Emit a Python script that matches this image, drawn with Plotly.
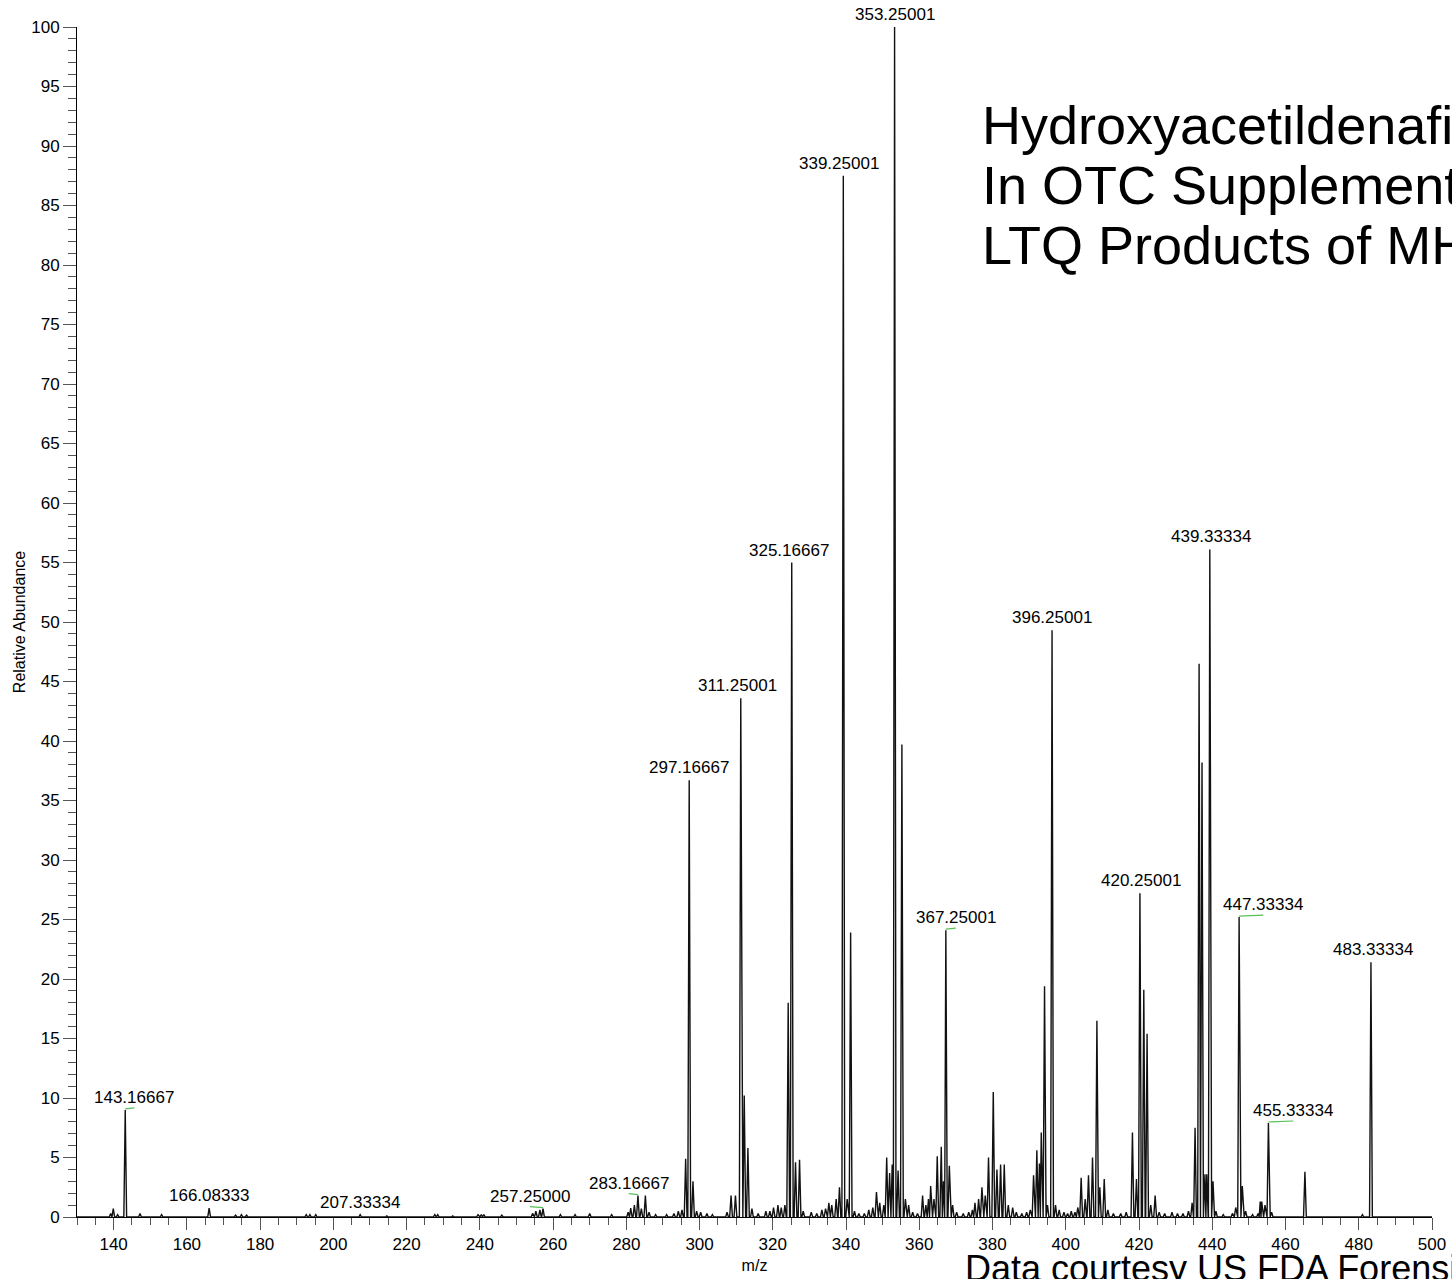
import plotly.graph_objects as go

# ---------------- data ----------------
peak_mz = [
    139.2, 139.9, 141.1, 143.17, 147.2, 153.1, 166.08, 173.3, 174.9, 176.3,
    192.6, 193.6, 195.2, 207.33, 214.6, 227.7, 228.5, 232.6, 239.5, 240.4,
    241.1, 246.0, 254.4, 255.3, 256.4, 257.25, 262.0, 266.0, 270.0, 276.0,
    280.5, 281.2, 282.2, 283.17, 284.1, 285.2, 286.2, 288.0, 291.0, 293.0,
    294.2, 295.2, 296.2, 297.17, 298.2, 299.2, 300.3, 302.0, 303.5, 307.5,
    308.6, 309.8, 311.25, 312.2, 313.2, 314.3, 316.0, 318.1, 319.2, 320.2,
    321.4, 322.3, 323.3, 324.2, 325.17, 326.2, 327.3, 328.3, 330.5, 332.0,
    333.4, 334.4, 335.3, 336.1, 337.3, 338.2, 339.25, 340.3, 341.25, 342.3,
    343.5, 345.0, 346.2, 347.3, 348.3, 349.2, 350.3, 351.1, 351.9, 352.6,
    353.25, 354.2, 355.25, 356.2, 357.1, 358.2, 359.5, 360.9, 361.8, 362.5,
    363.1, 364.0, 364.9, 366.0, 366.6, 367.25, 368.2, 369.1, 370.2, 372.0,
    373.5, 374.5, 375.2, 376.2, 377.1, 378.0, 378.9, 380.2, 381.2, 382.2,
    383.2, 384.3, 385.5, 386.5, 388.0, 389.3, 390.3, 391.2, 392.1, 392.8,
    393.3, 394.2, 395.0, 396.25, 397.2, 398.2, 399.5, 400.5, 401.5, 402.5,
    403.3, 404.2, 405.3, 406.2, 407.3, 408.5, 409.3, 410.5, 411.5, 413.0,
    415.0, 416.5, 418.2, 419.3, 420.25, 421.3, 422.2, 423.2, 424.4, 425.5,
    427.0, 429.0, 430.5, 432.0, 433.5, 434.5, 435.3, 436.4, 437.2, 438.0,
    438.5, 439.33, 440.2, 441.0, 443.0, 445.5, 446.4, 447.33, 448.2, 449.1,
    451.0, 452.5, 453.1, 453.5, 454.4, 455.33, 456.2, 465.3, 481.0, 483.33,
]
peak_int = [
    0.3, 0.7, 0.2, 9.0, 0.3, 0.2, 0.75, 0.15, 0.2, 0.15,
    0.2, 0.2, 0.2, 0.2, 0.1, 0.2, 0.2, 0.1, 0.2, 0.2,
    0.2, 0.15, 0.3, 0.5, 0.6, 0.7, 0.2, 0.2, 0.3, 0.2,
    0.4, 0.75, 1.0, 1.8, 0.7, 1.8, 0.4, 0.2, 0.2, 0.3,
    0.5, 0.6, 4.9, 36.7, 3.0, 0.5, 0.4, 0.3, 0.2, 0.4,
    1.8, 1.8, 43.6, 10.2, 5.8, 0.7, 0.3, 0.5, 0.5, 0.8,
    1.0, 0.8, 1.0, 18.0, 55.0, 4.6, 4.8, 0.5, 0.4, 0.3,
    0.6, 0.7, 1.2, 1.0, 1.5, 2.5, 87.5, 1.5, 23.9, 0.5,
    0.3, 0.3, 0.6, 0.8, 2.1, 1.2, 1.0, 5.0, 3.7, 4.4,
    100.0, 3.9, 39.7, 1.5, 1.0, 0.4, 0.3, 1.8, 1.0, 1.5,
    2.6, 1.5, 5.1, 5.9, 3.0, 24.1, 4.3, 1.0, 0.4, 0.3,
    0.4, 0.6, 1.2, 1.5, 2.5, 1.8, 5.0, 10.5, 4.0, 4.4,
    4.4, 1.0, 0.8, 0.4, 0.3, 0.4, 0.6, 3.5, 5.6, 4.5,
    7.1, 19.4, 1.0, 49.3, 1.0, 0.6, 0.4, 0.3, 0.5, 0.4,
    0.8, 3.3, 1.5, 3.5, 5.0, 16.5, 2.5, 3.2, 0.6, 0.3,
    0.3, 0.4, 7.1, 3.2, 27.2, 19.1, 15.4, 1.0, 1.8, 0.4,
    0.3, 0.4, 0.3, 0.3, 0.5, 1.2, 7.5, 46.5, 38.2, 3.6,
    3.6, 56.1, 3.0, 0.5, 0.2, 0.3, 0.8, 25.2, 2.6, 0.5,
    0.2, 0.3, 1.3, 1.3, 1.0, 7.9, 0.4, 3.8, 0.2, 21.4,
]

label_mz = [143.16667, 166.08333, 207.33334, 257.25000, 283.16667, 297.16667,
            311.25001, 325.16667, 339.25001, 353.25001, 367.25001, 396.25001,
            420.25001, 439.33334, 447.33334, 455.33334, 483.33334]
label_text = ["143.16667", "166.08333", "207.33334", "257.25000", "283.16667",
              "297.16667", "311.25001", "325.16667", "339.25001", "353.25001",
              "367.25001", "396.25001", "420.25001", "439.33334", "447.33334",
              "455.33334", "483.33334"]

title_lines = ["Hydroxyacetildenafil", "In OTC Supplement", "LTQ Products of MH+"]
footer_text = "Data courtesy US FDA Forensic Chemistry Center"

# ---------------- styling ----------------
FONT = "Liberation Sans, Arial, sans-serif"
W, H = 1452, 1279
ML, MR, MT, MB = 77, 20, 27, 62
X_RANGE = [130, 500]
# horizontal shift (m/z units) of some peak labels, as placed in the reference
label_shift = {143.16667: 2.5, 257.25000: -3.6, 283.16667: -2.5, 311.25001: -0.8,
               325.16667: -0.8, 339.25001: -1.1, 367.25001: 2.7, 420.25001: 0.4,
               439.33334: 0.4, 447.33334: 6.6, 455.33334: 6.8, 483.33334: 0.5}
HALF_W = 0.38

# ---------------- build profile line from peak list ----------------
peaks = sorted(zip(peak_mz, peak_int))
xs, ys = [X_RANGE[0]], [0.0]
for i, (m, h) in enumerate(peaks):
    prev = peaks[i - 1][0] if i > 0 else None
    nxt = peaks[i + 1][0] if i < len(peaks) - 1 else None
    lb = m - HALF_W if prev is None else max(m - HALF_W, (prev + m) / 2)
    rb = m + HALF_W if nxt is None else min(m + HALF_W, (m + nxt) / 2)
    if lb > xs[-1] + 1e-9:
        xs.append(lb); ys.append(0.0)
    xs.append(m); ys.append(h)
    xs.append(rb); ys.append(0.0)
xs.append(X_RANGE[1]); ys.append(0.0)

fig = go.Figure()
fig.add_trace(go.Scatter(x=xs, y=ys, mode="lines",
                         line=dict(color="#111111", width=1.4),
                         hoverinfo="skip", showlegend=False))

annotations = []
shapes = []
for m, t in zip(label_mz, label_text):
    h = min(peaks, key=lambda p: abs(p[0] - m))[1]
    dx = label_shift.get(m, 0.0)
    annotations.append(dict(x=m + dx, y=h, xref="x", yref="y", text=t,
                            showarrow=False, yanchor="bottom", xanchor="center",
                            yshift=1, font=dict(family=FONT, size=17, color="black")))
    if abs(dx) >= 1.5:
        shapes.append(dict(type="line", xref="x", yref="y", ysizemode="pixel",
                           yanchor=h, x0=m, x1=m + dx, y0=1, y1=2,
                           line=dict(color="#55c055", width=1.2)))

plot_w = W - ML - MR
plot_h = H - MT - MB
def px_to_paper_x(px):
    return (px - ML) / plot_w
def px_to_paper_y(py):
    return (H - MB - py) / plot_h

for i, line in enumerate(title_lines):
    annotations.append(dict(x=px_to_paper_x(980), y=px_to_paper_y(125 + 60 * i),
                            xref="paper", yref="paper", text=line, showarrow=False,
                            xanchor="left", yanchor="middle",
                            font=dict(family=FONT, size=54, color="black")))
annotations.append(dict(x=px_to_paper_x(963), y=px_to_paper_y(1268),
                        xref="paper", yref="paper", text=footer_text, showarrow=False,
                        xanchor="left", yanchor="middle",
                        font=dict(family=FONT, size=36, color="black")))

fig.update_layout(
    template="none",
    width=W, height=H,
    margin=dict(l=ML, r=MR, t=MT, b=MB, pad=0),
    paper_bgcolor="white", plot_bgcolor="white",
    font=dict(family=FONT, size=17, color="black"),
    annotations=annotations,
    shapes=shapes,
    showlegend=False,
)
fig.update_xaxes(
    range=X_RANGE, dtick=20, tick0=0, showgrid=False, zeroline=False,
    showline=True, linecolor="black", linewidth=1,
    ticks="outside", ticklen=12, tickcolor="#555555", tickwidth=1,
    minor=dict(dtick=5, ticks="outside", ticklen=7, tickcolor="#555555", showgrid=False),
    tickfont=dict(family=FONT, size=17, color="black"),
    title=dict(text="m/z", font=dict(family=FONT, size=16, color="black"), standoff=6),
    automargin=False,
)
fig.update_yaxes(
    range=[0, 100], dtick=5, tick0=0, showgrid=False, zeroline=False,
    showline=True, linecolor="black", linewidth=1,
    ticks="outside", ticklen=13, tickcolor="#555555", tickwidth=1,
    minor=dict(dtick=1, ticks="outside", ticklen=8, tickcolor="#555555", showgrid=False),
    tickfont=dict(family=FONT, size=17, color="black"),
    title=dict(text="Relative Abundance", font=dict(family=FONT, size=16, color="black"), standoff=1),
    automargin=False,
)

fig.write_html("out.html", config={"displayModeBar": False},
               post_script="document.body.style.margin='0';document.body.style.overflow='hidden';")
